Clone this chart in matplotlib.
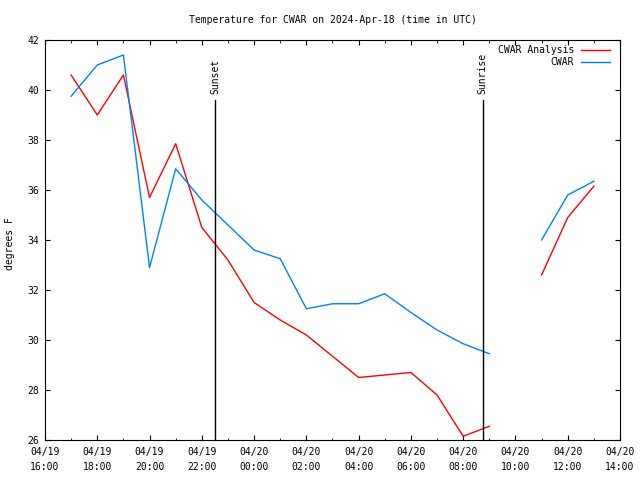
import datetime as dt
import numpy as np
import matplotlib
matplotlib.use('Agg')
import matplotlib.pyplot as plt
import matplotlib.dates as mdates

# hourly times, 04/19 17:00 .. 04/20 13:00 (10:00 missing)
hours = ['04-19 17', '04-19 18', '04-19 19', '04-19 20', '04-19 21', '04-19 22', '04-19 23',
         '04-20 00', '04-20 01', '04-20 02', '04-20 03', '04-20 04', '04-20 05', '04-20 06',
         '04-20 07', '04-20 08', '04-20 09', '04-20 10', '04-20 11', '04-20 12', '04-20 13']
analysis = [40.6, 39.0, 40.6, 35.7, 37.85, 34.5, 33.2,
            31.5, 30.8, 30.2, 29.35, 28.5, 28.6, 28.7,
            27.8, 26.15, 26.55, np.nan, 32.6, 34.9, 36.15]
obs = [39.75, 41.0, 41.4, 32.9, 36.85, 35.6, 34.6,
       33.6, 33.25, 31.25, 31.45, 31.45, 31.85, 31.1,
       30.4, 29.85, 29.45, np.nan, 34.0, 35.8, 36.35]
sunset = '04-19 22:30'
sunrise = '04-20 08:45'

def t(s):
    fmt = '%m-%d %H:%M' if ':' in s else '%m-%d %H'
    return dt.datetime.strptime('2024-' + s, '%Y-' + fmt)

x = [t(h) for h in hours]

plt.rcParams['font.family'] = 'DejaVu Sans Mono'
plt.rcParams['font.size'] = 7

fig = plt.figure(figsize=(6.4, 4.8), dpi=100)
ax = fig.add_axes([45/640, 40/480, 575/640, 400/480])

l1, = ax.plot(x, analysis, color='#ff0000', lw=1)
l2, = ax.plot(x, obs, color='#0080ff', lw=1)

for s, name in [(sunset, 'Sunset'), (sunrise, 'Sunrise')]:
    ax.axvline(t(s), ymin=0, ymax=(39.6 - 26) / 16, color='black', lw=1)
    ax.text(t(s), 39.85, name, rotation=90, ha='center', va='bottom', fontsize=7)

ax.set_xlim(t('04-19 16'), t('04-20 14'))
ax.set_ylim(26, 42)
ax.set_yticks(range(26, 43, 2))
ax.xaxis.set_major_locator(mdates.HourLocator(interval=2))
ax.xaxis.set_minor_locator(mdates.HourLocator())
ax.xaxis.set_major_formatter(mdates.DateFormatter('%m/%d\n%H:%M'))
ax.tick_params(which='both', direction='in', top=True, right=True)
ax.tick_params(which='major', length=3.5, pad=4)
ax.tick_params(axis='x', which='major', pad=5)
ax.tick_params(which='minor', length=1.8)
for lab in ax.get_xticklabels():
    lab.set_linespacing(1.6)

ax.set_ylabel('degrees F')
ax.yaxis.set_label_coords(-30/575, 0.49)
fig.text(332.5/640, 1 - 20/480, 'Temperature for CWAR on 2024-Apr-18 (time in UTC)',
         ha='center', va='center', fontsize=7)

# gnuplot style key: right aligned text, sample line after it
for i, (line, name) in enumerate([(l1, 'CWAR Analysis'), (l2, 'CWAR')]):
    yk = 1 - (50 + 12 * i) / 480
    fig.text(574/640, yk, name, ha='right', va='center', fontsize=7)
    fig.add_artist(plt.Line2D([581/640, 610/640], [yk, yk], color=line.get_color(),
                              lw=1, transform=fig.transFigure))

fig.savefig('out.png', dpi=100)
